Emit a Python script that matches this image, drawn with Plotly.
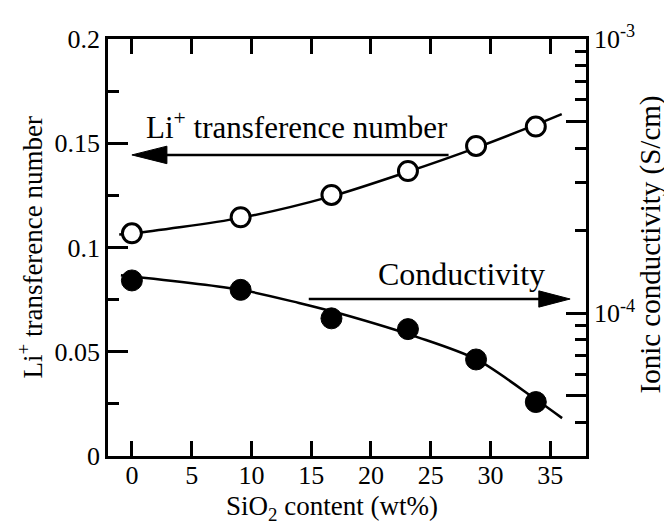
import plotly.graph_objects as go

# SiO2 content of each membrane (wt%)
sio2 = [0, 9.1, 16.7, 23.1, 28.8, 33.8]
# Li+ transference number (left axis)
t_li = [0.1068, 0.1145, 0.1252, 0.1367, 0.1487, 0.158]
# Ionic conductivity in S/cm (right axis, log scale)
sigma = [1.318e-4, 1.218e-4, 9.59e-5, 8.76e-5, 6.79e-5, 4.75e-5]

# Guide-to-the-eye trend curves
t_fit_x = [-1.06, 0, 9.1, 16.67, 23.02, 28.74, 33.75, 35.97]
t_fit_y = [0.1062, 0.1067, 0.1142, 0.1245, 0.1362, 0.1477, 0.1588, 0.1640]
s_fit_x = [-0.92, 9.13, 13.98, 17.57, 24.0, 28.85, 33.77, 36.0]
s_fit_y = [1.376e-4, 1.218e-4, 1.091e-4, 9.94e-5, 8.16e-5, 6.79e-5, 4.87e-5, 4.15e-5]

x_ticks = [0, 5, 10, 15, 20, 25, 30, 35]
left_ticks = [0, 0.05, 0.1, 0.15, 0.2]
left_labels = ["0", "0.05", "0.1", "0.15", "0.2"]
right_ticks = [5e-5, 1e-4, 5e-4, 1e-3]
right_labels = ["", "10<sup>-4</sup>", "", "10<sup>-3</sup>"]
right_minor = [4e-5, 6e-5, 7e-5, 8e-5, 9e-5, 2e-4, 3e-4, 4e-4, 6e-4, 7e-4, 8e-4, 9e-4]

FONT = "Liberation Serif, Times New Roman, Times, DejaVu Serif, serif"
LW = 2.5
TICK_FONT = dict(family=FONT, size=26, color="black")

fig = go.Figure()

fig.add_trace(go.Scatter(x=t_fit_x, y=t_fit_y, mode="lines",
                         line=dict(color="black", width=LW, shape="spline", smoothing=0.8),
                         yaxis="y", showlegend=False, hoverinfo="skip"))
fig.add_trace(go.Scatter(x=s_fit_x, y=s_fit_y, mode="lines",
                         line=dict(color="black", width=LW, shape="spline", smoothing=0.8),
                         yaxis="y2", showlegend=False, hoverinfo="skip"))
fig.add_trace(go.Scatter(x=sio2, y=t_li, mode="markers", yaxis="y", showlegend=False,
                         marker=dict(symbol="circle", size=19, color="white", line=dict(color="black", width=3))))
fig.add_trace(go.Scatter(x=sio2, y=sigma, mode="markers", yaxis="y2", showlegend=False,
                         marker=dict(symbol="circle", size=21, color="black", line=dict(color="black", width=1))))

# Arrows pointing to the axis that each series belongs to
li_arrow_y = 0.1444
cond_arrow_y = 0.0753
shapes = [
    dict(type="line", xref="x", yref="y", x0=26.5, x1=2.5, y0=li_arrow_y, y1=li_arrow_y,
         line=dict(color="black", width=LW)),
    dict(type="path", xref="x", yref="y",
         path=f"M 0.0,{li_arrow_y} L 2.93,{li_arrow_y + 0.0042} L 2.93,{li_arrow_y - 0.0042} Z",
         fillcolor="black", line=dict(color="black", width=1)),
    dict(type="line", xref="x", yref="y", x0=14.8, x1=34.3, y0=cond_arrow_y, y1=cond_arrow_y,
         line=dict(color="black", width=LW)),
    dict(type="path", xref="x", yref="y",
         path=f"M 36.67,{cond_arrow_y} L 34.05,{cond_arrow_y + 0.0039} L 34.05,{cond_arrow_y - 0.0039} Z",
         fillcolor="black", line=dict(color="black", width=1)),
]

annotations = [
    dict(text="Li<sup>+</sup> transference number", x=13.8, y=0.1583, xref="x", yref="y",
         showarrow=False, font=dict(family=FONT, size=31, color="black"), xanchor="center", yanchor="middle"),
    dict(text="Conductivity", x=27.55, y=0.0875, xref="x", yref="y",
         showarrow=False, font=dict(family=FONT, size=32, color="black"), xanchor="center", yanchor="middle"),
    dict(text="SiO<sub>2</sub> content (wt%)", x=0.5, y=0, xref="paper", yref="paper", xshift=-15, yshift=-52,
         showarrow=False, font=dict(family=FONT, size=27, color="black"), xanchor="center", yanchor="middle"),
    dict(text="Li<sup>+</sup> transference number", x=0, y=0.5, xref="paper", yref="paper", xshift=-78,
         textangle=-90, showarrow=False, font=dict(family=FONT, size=27, color="black"),
         xanchor="center", yanchor="middle"),
    dict(text="Ionic conductivity (S/cm)", x=1, y=0.5, xref="paper", yref="paper", xshift=64, yshift=3,
         textangle=-90, showarrow=False, font=dict(family=FONT, size=29, color="black"),
         xanchor="center", yanchor="middle"),
]

fig.update_layout(
    width=664, height=525,
    margin=dict(l=108, r=78, t=39, b=69),
    paper_bgcolor="white", plot_bgcolor="white",
    font=dict(family=FONT, size=26, color="black"),
    shapes=shapes, annotations=annotations,
    xaxis=dict(range=[-2, 38], tickmode="array", tickvals=x_ticks, ticks="inside", ticklen=15,
               tickwidth=LW, tickcolor="black", showline=True, linecolor="black", linewidth=LW,
               mirror="ticks", showgrid=False, zeroline=False, tickfont=TICK_FONT,
               ticklabelstandoff=-6),
    yaxis=dict(range=[0, 0.2], tickmode="array", tickvals=left_ticks, ticktext=left_labels,
               ticks="inside", ticklen=20, tickwidth=LW, tickcolor="black",
               minor=dict(ticks="inside", tickmode="array", tickvals=[0.025, 0.075, 0.125, 0.175],
                          ticklen=11, tickwidth=LW, tickcolor="black"),
               showline=True, linecolor="black", linewidth=LW, showgrid=False, zeroline=False,
               tickfont=TICK_FONT),
    yaxis2=dict(type="log", range=[-4.52, -3], overlaying="y", side="right", anchor="x",
                tickmode="array", tickvals=right_ticks, ticktext=right_labels,
                ticks="inside", ticklen=20, tickwidth=LW, tickcolor="black",
                minor=dict(ticks="inside", tickmode="array", tickvals=right_minor,
                           ticklen=11, tickwidth=LW, tickcolor="black"),
                showline=True, linecolor="black", linewidth=LW, showgrid=False, zeroline=False,
                tickfont=TICK_FONT),
)

fig.write_html("out.html")
